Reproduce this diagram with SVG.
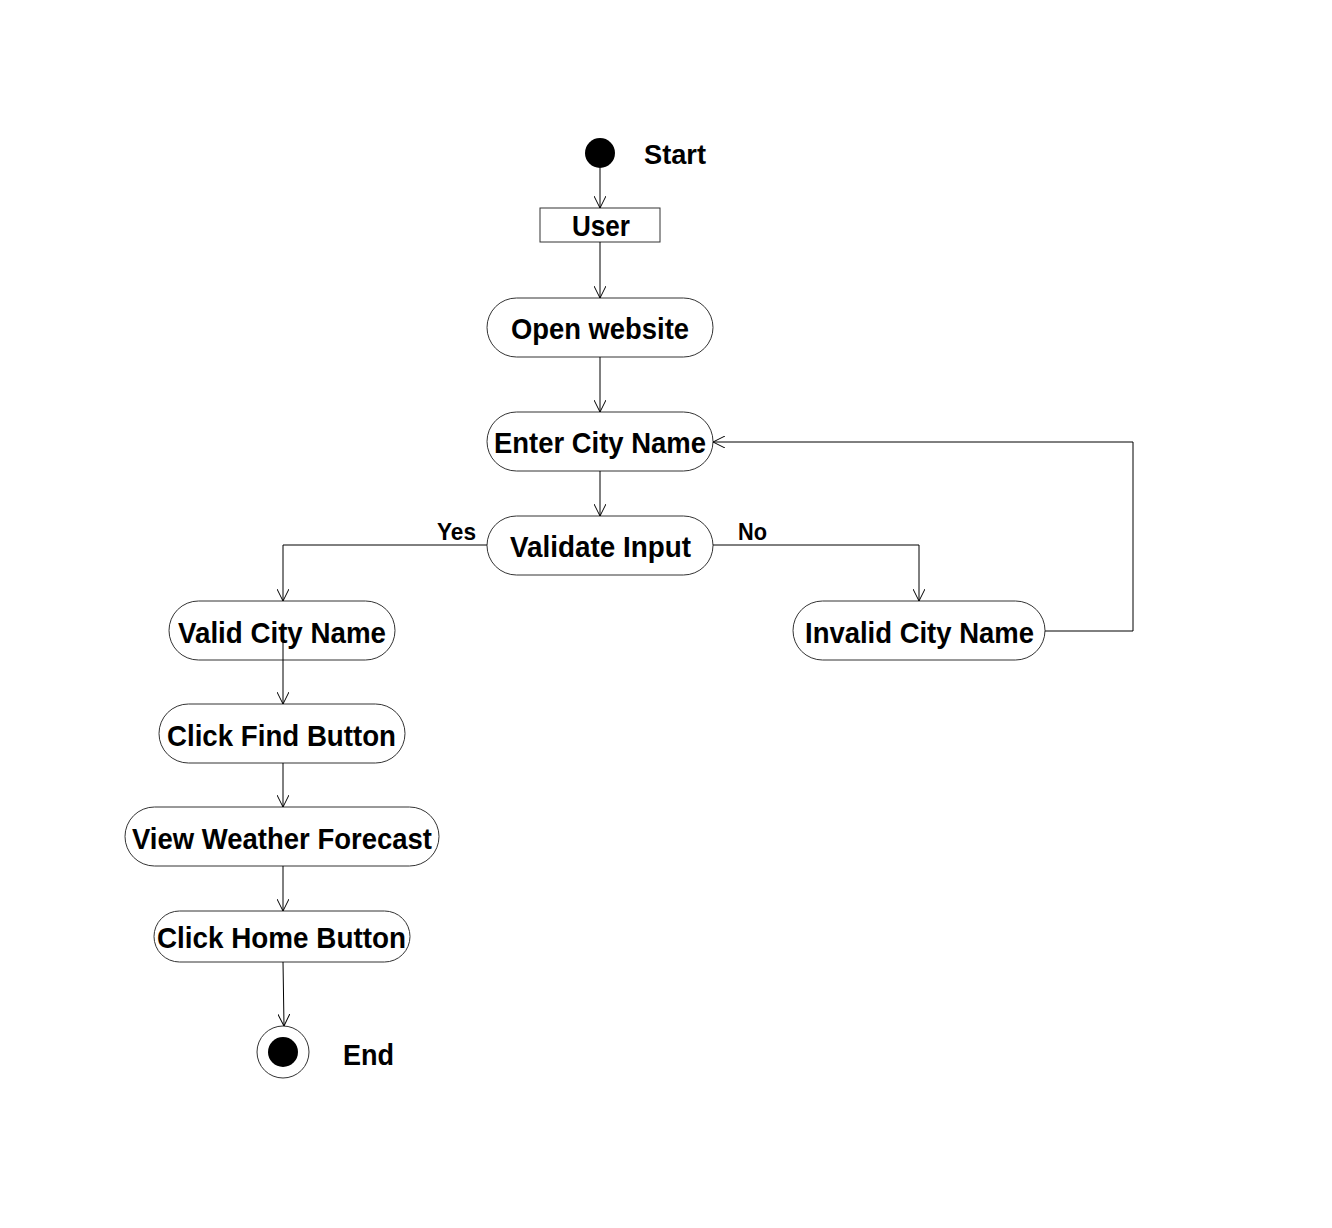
<svg xmlns="http://www.w3.org/2000/svg" width="1332" height="1228" viewBox="0 0 1332 1228">
<defs>
<marker id="arr" viewBox="0 0 12 12" refX="12" refY="6" markerWidth="12" markerHeight="12" markerUnits="userSpaceOnUse" orient="auto">
<path d="M0,0 L12,6 L0,12" fill="none" stroke="#000" stroke-width="1"/>
</marker>
<style>
.n{fill:#fff;stroke:#333;stroke-width:1}
.t{font-family:"Liberation Sans Narrow","Arial Narrow","Liberation Sans",Arial,sans-serif;font-weight:bold;font-size:30px;fill:#000;text-anchor:middle}
.s{font-family:"Liberation Sans Narrow","Arial Narrow","Liberation Sans",Arial,sans-serif;font-weight:bold;font-size:23px;fill:#000;text-anchor:middle}
.c{fill:none;stroke:#000;stroke-width:1;marker-end:url(#arr)}
</style>
</defs>
<rect width="1332" height="1228" fill="#fff"/>
<g id="start">
<circle cx="600" cy="153" r="15" fill="#000"/>
<text class="t" x="675" y="164" textLength="62" lengthAdjust="spacingAndGlyphs" style="font-size:28px">Start</text>
</g>
<g id="user">
<rect class="n" x="540" y="208" width="120" height="34"/>
<text class="t" x="601" y="236" textLength="58" lengthAdjust="spacingAndGlyphs">User</text>
</g>
<g id="open-website">
<rect class="n" x="487" y="298" width="226" height="59" rx="29.5"/>
<text class="t" x="600" y="339" textLength="178" lengthAdjust="spacingAndGlyphs">Open website</text>
</g>
<g id="enter-city-name">
<rect class="n" x="487" y="412" width="226" height="59" rx="29.5"/>
<text class="t" x="600" y="453" textLength="212" lengthAdjust="spacingAndGlyphs">Enter City Name</text>
</g>
<g id="validate-input">
<rect class="n" x="487" y="516" width="226" height="59" rx="29.5"/>
<text class="t" x="600.5" y="557" textLength="181" lengthAdjust="spacingAndGlyphs">Validate Input</text>
</g>
<g id="valid-city-name">
<rect class="n" x="169" y="601" width="226" height="59" rx="29.5"/>
<text class="t" x="282" y="643" textLength="208" lengthAdjust="spacingAndGlyphs">Valid City Name</text>
</g>
<g id="invalid-city-name">
<rect class="n" x="793" y="601" width="252" height="59" rx="29.5"/>
<text class="t" x="919.5" y="643" textLength="229" lengthAdjust="spacingAndGlyphs">Invalid City Name</text>
</g>
<g id="click-find-button">
<rect class="n" x="159" y="704" width="246" height="59" rx="29.5"/>
<text class="t" x="281.5" y="746" textLength="229" lengthAdjust="spacingAndGlyphs">Click Find Button</text>
</g>
<g id="view-weather-forecast">
<rect class="n" x="125" y="807" width="314" height="59" rx="29.5"/>
<text class="t" x="282" y="849" textLength="300" lengthAdjust="spacingAndGlyphs">View Weather Forecast</text>
</g>
<g id="click-home-button">
<rect class="n" x="154" y="911" width="256" height="51" rx="25.5"/>
<text class="t" x="281.5" y="948" textLength="249" lengthAdjust="spacingAndGlyphs">Click Home Button</text>
</g>
<g id="end">
<circle cx="283" cy="1052" r="26" fill="#fff" stroke="#333" stroke-width="1"/>
<circle cx="283" cy="1052" r="15" fill="#000"/>
<text class="t" x="368.5" y="1065" textLength="51" lengthAdjust="spacingAndGlyphs">End</text>
</g>
<g id="connectors">
<line class="c" x1="600" y1="168" x2="600" y2="208"/>
<line class="c" x1="600" y1="242" x2="600" y2="298"/>
<line class="c" x1="600" y1="357" x2="600" y2="412"/>
<line class="c" x1="600" y1="471" x2="600" y2="516"/>
<polyline class="c" points="487,545 283,545 283,601"/>
<polyline class="c" points="713,545 919,545 919,601"/>
<polyline class="c" points="1045,631 1133,631 1133,442 713,442"/>
<line class="c" x1="283" y1="638" x2="283" y2="704"/>
<line class="c" x1="283" y1="763" x2="283" y2="807"/>
<line class="c" x1="283" y1="866" x2="283" y2="911"/>
<line class="c" x1="283" y1="962" x2="284" y2="1026"/>
<text class="s" x="456.5" y="540" textLength="39" lengthAdjust="spacingAndGlyphs">Yes</text>
<text class="s" x="752.5" y="540" textLength="29" lengthAdjust="spacingAndGlyphs">No</text>
</g>
</svg>
